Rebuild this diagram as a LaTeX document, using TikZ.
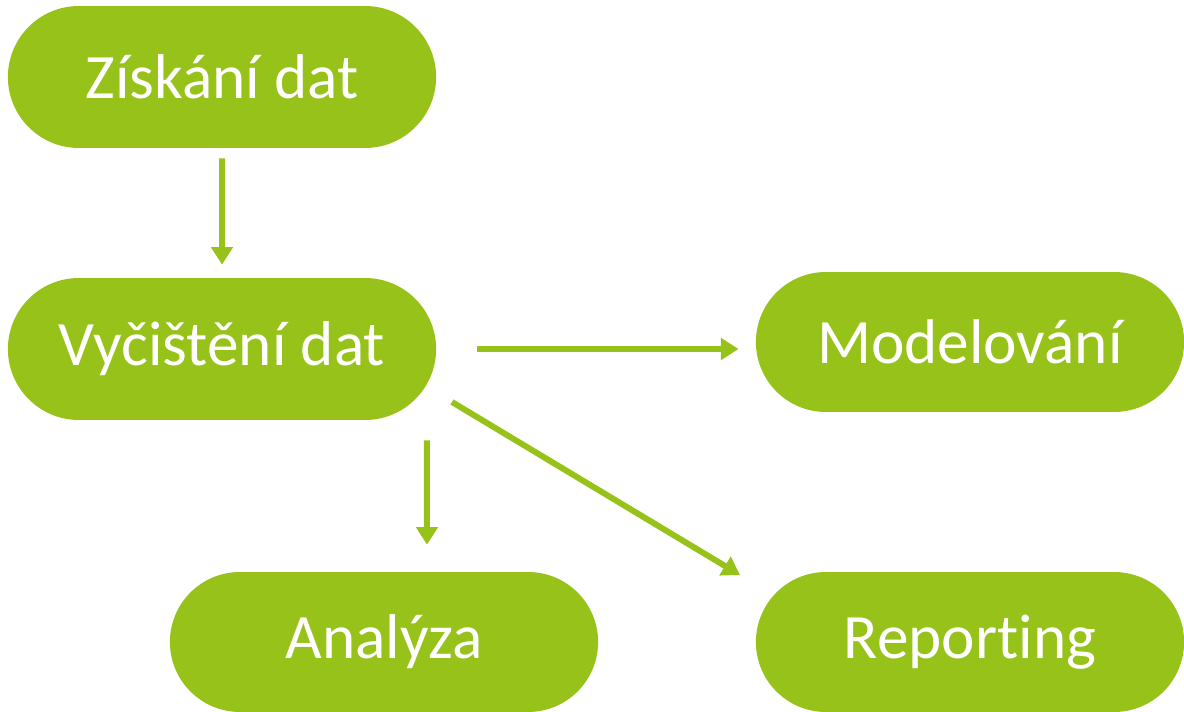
\documentclass[tikz,border=0pt]{standalone}
\usepackage{fontspec}
\setmainfont{Carlito}[RawFeature={-liga;-clig;-calt;-dlig}]
\usetikzlibrary{shapes.misc,arrows.meta}
\definecolor{leaf}{HTML}{97C21A}
\tikzset{
  stage/.style={rounded rectangle, fill=leaf, text=white, minimum width=8.8cm,
    minimum height=2.84cm, font=\fontsize{36}{42}\selectfont},
  flow/.style={draw=leaf, line width=3.4pt, -{Triangle[width=12pt,length=10pt]}}
}
\begin{document}
\begin{tikzpicture}[x=0.02cm, y=-0.02cm]
    \useasboundingbox (0,0) rectangle (1184,712);
    \node[stage] (ziskani) at (222,77) {Získání dat};
    \node[stage] (vycisteni) at (222,349) {Vyčištění dat};
    \node[stage, minimum height=2.8cm] (modelovani) at (970,342) {Modelování};
    \node[stage, minimum height=2.8cm] (analyza) at (384,642) {Analýza};
    \node[stage, minimum height=2.8cm] (reporting) at (970,642) {Reporting};
    \draw[flow, shorten <=0.2cm, shorten >=0.26cm] (ziskani) -- (vycisteni);
    \draw[flow, shorten <=0.82cm, shorten >=0.34cm] (vycisteni.east) -- (vycisteni.east -| modelovani.west);
    \draw[flow, shorten <=0.4cm, shorten >=0.54cm] ([xshift=4.1cm]vycisteni.south) -- ([xshift=0.86cm]analyza.north);
    \draw[flow] ([xshift=4.6cm, yshift=-1.06cm]vycisteni.center) -- ([xshift=-4.6cm, yshift=1.34cm]reporting.center);
  \end{tikzpicture}
\end{document}
